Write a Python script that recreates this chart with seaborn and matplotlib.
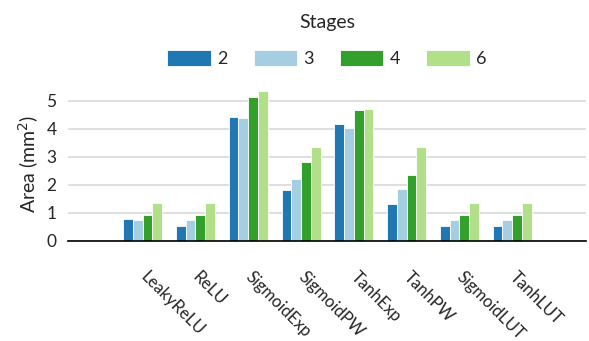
import matplotlib
matplotlib.use("Agg")
import matplotlib.pyplot as plt
import pandas as pd
import seaborn as sns

# data
functions = ["LeakyReLU", "ReLU", "SigmoidExp", "SigmoidPW",
             "TanhExp", "TanhPW", "SigmoidLUT", "TanhLUT"]
stages = ["2", "3", "4", "6"]
area_2 = [0.77, 0.52, 4.40, 1.81, 4.15, 1.30, 0.52, 0.52]
area_3 = [0.73, 0.73, 4.39, 2.20, 4.02, 1.83, 0.74, 0.74]
area_4 = [0.93, 0.93, 5.12, 2.80, 4.65, 2.33, 0.93, 0.93]
area_6 = [1.33, 1.33, 5.35, 3.35, 4.69, 3.35, 1.33, 1.33]
colors = ["#1f78b4", "#a6cee3", "#33a02c", "#b2df8a"]

rows = []
for st, vals in zip(stages, [area_2, area_3, area_4, area_6]):
    for fn, v in zip(functions, vals):
        rows.append({"Function": fn, "Stages": st, "Area": v})
df = pd.DataFrame(rows)

sns.set_style("white")
plt.rcParams["font.family"] = ["Lato", "DejaVu Sans"]

fig = plt.figure(figsize=(5.89, 3.41), dpi=100)
ax = fig.add_axes([0.115, 0.294, 0.88, 0.452])

sns.barplot(data=df, x="Function", y="Area", hue="Stages",
            order=functions, hue_order=stages, palette=colors,
            width=0.74, edgecolor="white", linewidth=0.6,
            saturation=1, ax=ax)

ax.set_xlim(-1.42, 8.4)
ax.set_ylim(0, 5.5)
ax.set_yticks([0, 1, 2, 3, 4, 5])
ax.yaxis.grid(True, color="#d9d9d9", linewidth=1.2)
ax.set_axisbelow(True)
for s in ["left", "right", "top"]:
    ax.spines[s].set_visible(False)
ax.spines["bottom"].set_color("black")
ax.spines["bottom"].set_linewidth(1.2)

ax.set_xlabel("")
ax.set_ylabel("Area (mm$^2$)", fontsize=14)
ax.tick_params(axis="y", length=0, labelsize=12.5, pad=8)
ax.tick_params(axis="x", length=9, color="#888888", width=1, labelsize=12, pad=15)
for lab in ax.get_xticklabels():
    lab.set_rotation(-45)
    lab.set_ha("left")
    lab.set_va("center")
    lab.set_rotation_mode("anchor")

leg = ax.legend(title="Stages", loc="lower center", bbox_to_anchor=(0.5, 1.02),
                ncol=4, frameon=False, fontsize=13, title_fontsize=14,
                handlelength=2.4, handleheight=0.95, columnspacing=1.45,
                handletextpad=0.35)
leg.get_title().set_position((0, 10))

fig.savefig("out.png", dpi=100)
